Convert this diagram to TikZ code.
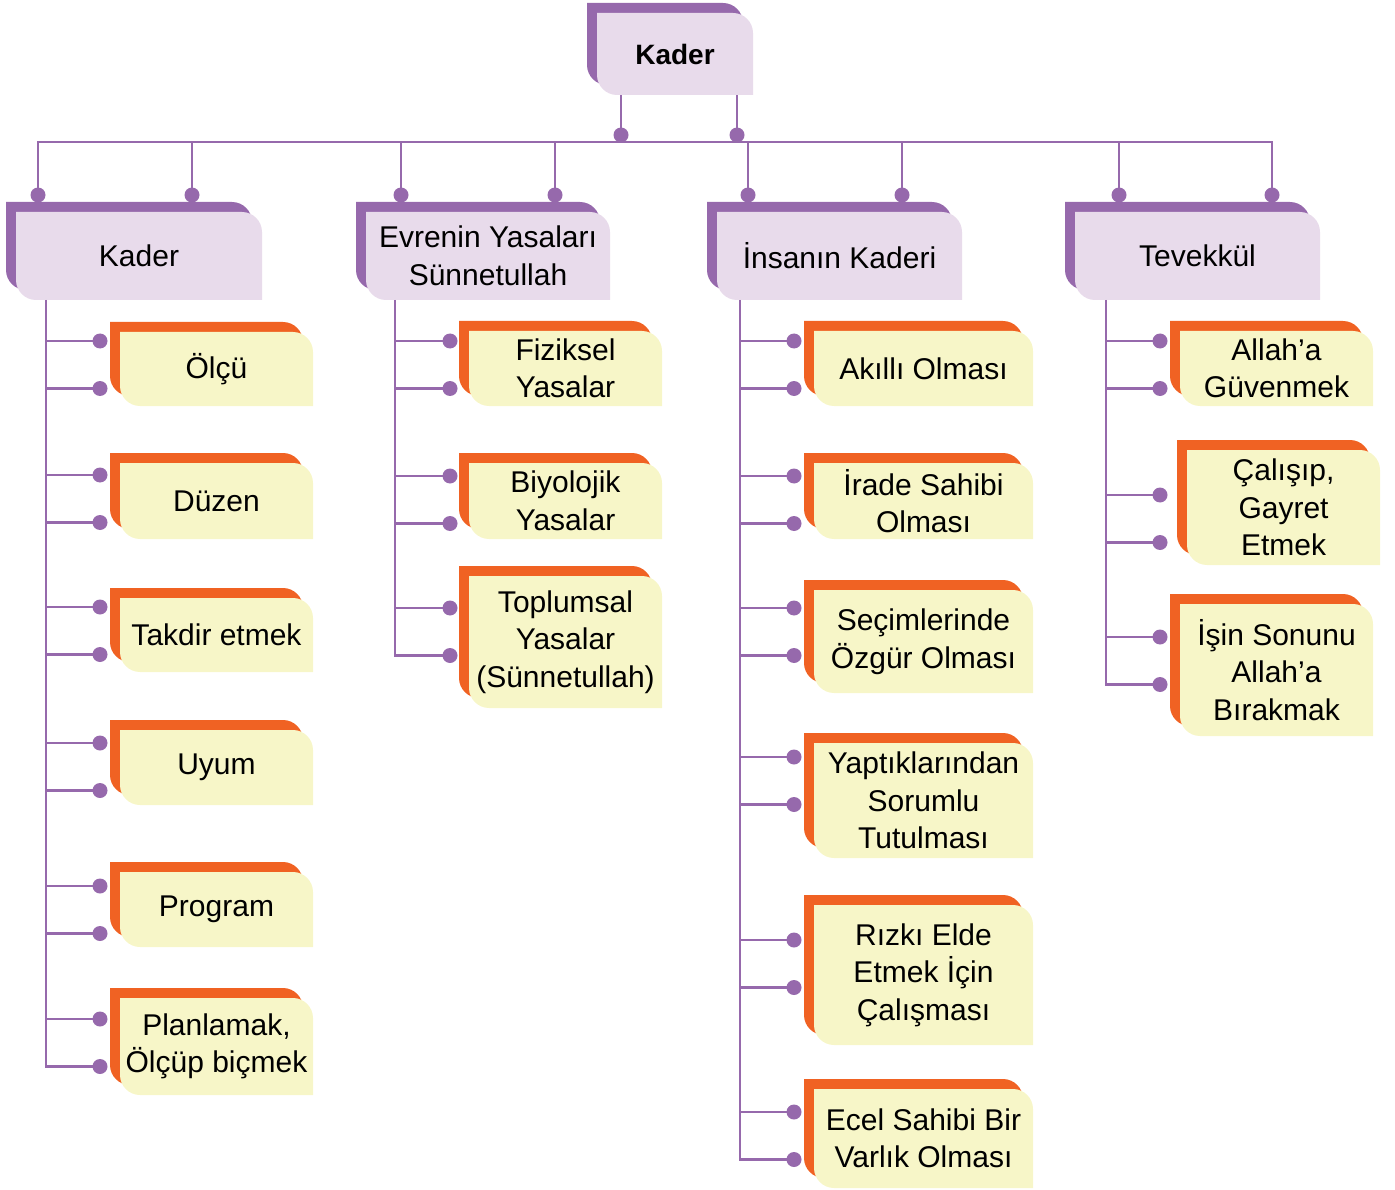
\documentclass[tikz,border=0pt]{standalone}
\usepackage{fontspec}
\setmainfont{Liberation Sans}
\usepackage{tikz}
\definecolor{mor}{RGB}{150,105,172}
\definecolor{acikmor}{RGB}{232,219,235}
\definecolor{turuncu}{RGB}{240,98,35}
\definecolor{krem}{RGB}{247,246,200}

% kutu: ad, x1, y1, x2, y2, tur (kat/yap), yazi
\newcommand{\kutu}[7]{%
  \fill[#6arka] ({#2-10},{#3-10}) -- ({#4-30},{#3-10}) .. controls ({#4-19},{#3-10}) and ({#4-10},{#3-1}) .. ({#4-10},{#3+10})
    -- ({#4-10},{#5-10}) -- ({#2+10},{#5-10}) .. controls ({#2-1},{#5-10}) and ({#2-10},{#5-19}) .. ({#2-10},{#5-30}) -- cycle;
  \fill[#6on] (#2,#3) -- ({#4-20},#3) .. controls ({#4-9},#3) and (#4,{#3+9}) .. (#4,{#3+20})
    -- (#4,#5) -- ({#2+20},#5) .. controls ({#2+9},#5) and (#2,{#5-9}) .. (#2,{#5-20}) -- cycle;
  \node[#6yazi, minimum width={#4-#2}, minimum height={#5-#3}] (#1) at ({(#2+#4)/2},{(#3+#5)/2}) {#7};
}

\begin{document}
\begin{tikzpicture}[x=1pt, y=-1pt,
  baglanti/.style={draw=mor, line width=2.7pt},
  nokta/.style={fill=mor},
  katarka/.style={fill=mor}, katon/.style={fill=acikmor},
  yaparka/.style={fill=turuncu}, yapon/.style={fill=krem},
  katyazi/.style={inner sep=0pt, align=center, font=\fontsize{30}{37.5}\selectfont},
  yapyazi/.style={katyazi}]

\useasboundingbox (0,0) rectangle (1395,1190);

% ana kutu ve kategoriler
\kutu{kader}{597}{13}{753}{95}{kat}{\fontsize{28}{34}\selectfont\bfseries Kader}
\kutu{kat1}{16}{212}{262}{300}{kat}{Kader}
\kutu{kat2}{366}{212}{610}{300}{kat}{Evrenin Yasaları\\Sünnetullah}
\kutu{kat3}{717}{212}{962}{300}{kat}{İnsanın Kaderi}
\kutu{kat4}{1075}{212}{1320}{300}{kat}{Tevekkül}

% Kader
\kutu{olcu}{120}{332}{313}{406}{yap}{Ölçü}
\kutu{duzen}{120}{463}{313}{539}{yap}{Düzen}
\kutu{takdir}{120}{598}{313}{672}{yap}{Takdir etmek}
\kutu{uyum}{120}{730}{313}{805}{yap}{Uyum}
\kutu{program}{120}{872}{313}{947}{yap}{Program}
\kutu{planla}{120}{998}{313}{1095}{yap}{Planlamak,\\Ölçüp biçmek}

% Evrenin Yasalari
\kutu{fizik}{469}{331}{662}{406}{yap}{Fiziksel\\Yasalar}
\kutu{biyo}{469}{463}{662}{539}{yap}{Biyolojik\\Yasalar}
\kutu{toplum}{469}{576}{662}{708}{yap}{Toplumsal\\Yasalar\\(Sünnetullah)}

% Insanin Kaderi
\kutu{akil}{814}{331}{1033}{406}{yap}{Akıllı Olması}
\kutu{irade}{814}{463}{1033}{539}{yap}{İrade Sahibi\\Olması}
\kutu{secim}{814}{590}{1033}{693}{yap}{Seçimlerinde\\Özgür Olması}
\kutu{sorumlu}{814}{743}{1033}{858}{yap}{Yaptıklarından\\Sorumlu\\Tutulması}
\kutu{rizik}{814}{905}{1033}{1045}{yap}{Rızkı Elde\\Etmek İçin\\Çalışması}
\kutu{ecel}{814}{1089}{1033}{1188}{yap}{Ecel Sahibi Bir\\Varlık Olması}

% Tevekkul
\kutu{guven}{1180}{331}{1373}{406}{yap}{Allah’a\\Güvenmek}
\kutu{calis}{1187}{450}{1380}{565}{yap}{Çalışıp,\\Gayret\\Etmek}
\kutu{birak}{1180}{604}{1373}{736}{yap}{İşin Sonunu\\Allah’a\\Bırakmak}

% ust baglantilar
\coordinate (ust1) at (621,135);
\coordinate (ust2) at (737,135);
\coordinate (hat) at (621,142);
\draw[baglanti] (ust1) -- (ust1 |- kader.south);
\draw[baglanti] (ust2) -- (ust2 |- kader.south);
\foreach \ad/\x in {k1a/38, k1b/192, k2a/401, k2b/555, k3a/748, k3b/902, k4a/1119, k4b/1272}
  \coordinate (\ad) at (\x,195);
\draw[baglanti] (k1a) -- (k1a |- hat) -- (k4b |- hat) -- (k4b);
\foreach \ad in {k1b, k2a, k2b, k3a, k3b, k4a}
  \draw[baglanti] (\ad) -- (\ad |- hat);
\foreach \ad in {ust1, ust2, k1a, k1b, k2a, k2b, k3a, k3b, k4a, k4b}
  \fill[nokta] (\ad) circle (7.5);

% govdeler
\coordinate (g1) at (46,300);
\coordinate (g2) at (395,300);
\coordinate (g3) at (740,300);
\coordinate (g4) at (1106,300);

\foreach \ad/\y in {olcu/341, duzen/475, takdir/607, uyum/743, program/886, planla/1019}{
  \coordinate (\ad-a) at (100,\y);
  \coordinate (\ad-b) at (100,{\y+47.5});
}
\foreach \ad/\y in {fizik/341, biyo/476, toplum/608}{
  \coordinate (\ad-a) at (450,\y);
  \coordinate (\ad-b) at (450,{\y+47.5});
}
\foreach \ad/\y in {akil/341, irade/476, secim/608, sorumlu/757, rizik/940, ecel/1112}{
  \coordinate (\ad-a) at (794,\y);
  \coordinate (\ad-b) at (794,{\y+47.5});
}
\foreach \ad/\y in {guven/341, calis/495, birak/637}{
  \coordinate (\ad-a) at (1160,\y);
  \coordinate (\ad-b) at (1160,{\y+47.5});
}

\draw[baglanti] (g1) |- (planla-b);
\draw[baglanti] (g2) |- (toplum-b);
\draw[baglanti] (g3) |- (ecel-b);
\draw[baglanti] (g4) |- (birak-b);

\foreach \g/\ad in {g1/olcu, g1/duzen, g1/takdir, g1/uyum, g1/program, g1/planla,
    g2/fizik, g2/biyo, g2/toplum,
    g3/akil, g3/irade, g3/secim, g3/sorumlu, g3/rizik, g3/ecel,
    g4/guven, g4/calis, g4/birak}{
  \draw[baglanti] (\g |- \ad-a) -- (\ad-a);
  \draw[baglanti] (\g |- \ad-b) -- (\ad-b);
  \fill[nokta] (\ad-a) circle (7.5);
  \fill[nokta] (\ad-b) circle (7.5);
}
\end{tikzpicture}
\end{document}
